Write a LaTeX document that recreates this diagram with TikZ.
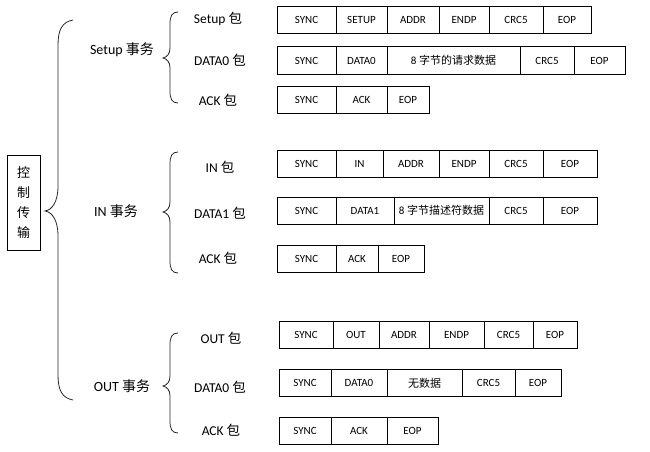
\documentclass[tikz,border=0pt]{standalone}
\usepackage{fontspec}
\setmainfont{Carlito}
\newfontfamily\cjk{Noto Sans CJK SC}
\usetikzlibrary{calc}
\tikzset{
every picture/.style={line width=0.8pt},
%%%%%%%%%%  Node styles
field/.style={draw, line width=1pt, minimum height=27pt, inner sep=0pt,
              outer sep=0pt, font=\fontsize{11}{13}\selectfont},
pktname/.style={inner sep=0pt, font=\fontsize{13.5}{15}\selectfont},
txname/.style={inner sep=0pt, font=\fontsize{14}{16}\selectfont},
ctrlbox/.style={draw, line width=1pt, minimum width=33pt, minimum height=95pt,
                inner sep=0pt, align=center, font=\fontsize{13}{20}\cjk},
%%%% line styles
brace/.style={line width=0.8pt, black!85}
}
\begin{document}
\begin{tikzpicture}[x=1pt,y=-1pt]
\useasboundingbox (0,0) rectangle (650,452);
%% root
\node[ctrlbox] (ctrl) at (23.5,202.5) {控\\制\\传\\输};
\draw[brace] (73,20) .. controls (62,22) and (58,30) .. (58,45) -- (58,186)
  .. controls (58,202) and (52,210) .. (45,211)
  .. controls (52,212) and (58,220) .. (58,236) -- (58,375)
  .. controls (58,390) and (62,398) .. (73,400);
%% transactions
\node[txname] (setuptx) at (122,50) {Setup {\cjk 事务}};
\node[txname] (intx) at (116,211) {IN {\cjk 事务}};
\node[txname] (outtx) at (122,386) {OUT {\cjk 事务}};
\foreach \ya/\ym/\yb in {12/58/103, 152/212/273, 333/386/433}
  \draw[brace] (178,\ya) .. controls (172,\ya) and (170,\ya+4) .. (170,\ya+12)
    -- (170,\ym-10) .. controls (170,\ym-4) and (167,\ym-1) .. (163,\ym)
    .. controls (167,\ym+1) and (170,\ym+4) .. (170,\ym+10)
    -- (170,\yb-12) .. controls (170,\yb-4) and (172,\yb) .. (178,\yb);
%% packet names
\node[pktname] (setuppk) at (218,19) {Setup {\cjk 包}};
\node[pktname] (datazpk) at (220,60) {DATA0 {\cjk 包}};
\node[pktname] (ackapk) at (218,100) {ACK {\cjk 包}};
%%
\node[pktname] (inpk) at (220,167) {IN {\cjk 包}};
\node[pktname] (dataapk) at (220,213) {DATA1 {\cjk 包}};
\node[pktname] (ackbpk) at (218,258) {ACK {\cjk 包}};
%%
\node[pktname] (outpk) at (221,338) {OUT {\cjk 包}};
\node[pktname] (databpk) at (220,387) {DATA0 {\cjk 包}};
\node[pktname] (ackcpk) at (221,430) {ACK {\cjk 包}};
%%%%%%%%%%%%%%%%%%%%%%%%%%%%%%%%%%%%%%%%%%%%%%
%% packet fields, Setup transaction
\foreach \xa/\xb/\t [count=\i] in {277/336/SYNC, 336/387/SETUP, 387/439/ADDR,
    439/489/ENDP, 489/543/CRC5, 543/591/EOP}
  \node[field, minimum width={\xb-\xa}] (setup-\i) at ({(\xa+\xb)/2},20) {\t};
\foreach \xa/\xb/\t [count=\i] in {277/336/SYNC, 336/387/DATA0,
    387/520/{8 {\cjk 字节的请求数据}}, 520/574/CRC5, 574/625/EOP}
  \node[field, minimum width={\xb-\xa}] (dataz-\i) at ({(\xa+\xb)/2},60.5) {\t};
\foreach \xa/\xb/\t [count=\i] in {277/336/SYNC, 336/387/ACK, 387/429/EOP}
  \node[field, minimum width={\xb-\xa}] (acka-\i) at ({(\xa+\xb)/2},99.5) {\t};
%% IN transaction
\foreach \xa/\xb/\t [count=\i] in {277/336/SYNC, 336/383/IN, 383/439/ADDR,
    439/489/ENDP, 489/543/CRC5, 543/597/EOP}
  \node[field, minimum width={\xb-\xa}] (in-\i) at ({(\xa+\xb)/2},163.5) {\t};
\foreach \xa/\xb/\t [count=\i] in {277/336/SYNC, 336/394/DATA1,
    394/489/{8 {\cjk 字节描述符数据}}, 489/543/CRC5, 543/597/EOP}
  \node[field, minimum width={\xb-\xa}] (dataa-\i) at ({(\xa+\xb)/2},210.5) {\t};
\foreach \xa/\xb/\t [count=\i] in {277/336/SYNC, 336/378/ACK, 378/424/EOP}
  \node[field, minimum width={\xb-\xa}] (ackb-\i) at ({(\xa+\xb)/2},258.5) {\t};
%% OUT transaction
\foreach \xa/\xb/\t [count=\i] in {279/333/SYNC, 333/379/OUT, 379/429/ADDR,
    429/484/ENDP, 484/533/CRC5, 533/577/EOP}
  \node[field, minimum width={\xb-\xa}] (out-\i) at ({(\xa+\xb)/2},334.5) {\t};
\foreach \xa/\xb/\t [count=\i] in {279/331/SYNC, 331/387/DATA0,
    387/462/{\cjk 无数据}, 462/515/CRC5, 515/561/EOP}
  \node[field, minimum width={\xb-\xa}] (datab-\i) at ({(\xa+\xb)/2},383) {\t};
\foreach \xa/\xb/\t [count=\i] in {279/331/SYNC, 331/387/ACK, 387/438/EOP}
  \node[field, minimum width={\xb-\xa}] (ackc-\i) at ({(\xa+\xb)/2},431) {\t};
\end{tikzpicture}
\end{document}
